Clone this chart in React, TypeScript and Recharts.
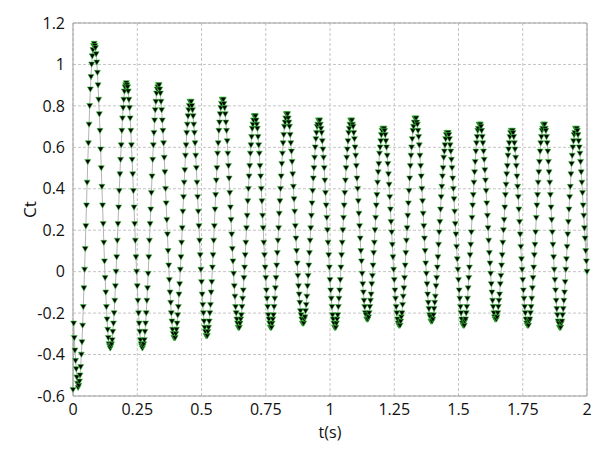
import React from "react";
import { LineChart, Line, XAxis, YAxis, CartesianGrid, ReferenceLine } from "recharts";

// sampling step of the record (s)
const DT = 0.0025;

const xTicks = [0, 0.25, 0.5, 0.75, 1, 1.25, 1.5, 1.75, 2];
const yTicks = [-0.6, -0.4, -0.2, 0, 0.2, 0.4, 0.6, 0.8, 1, 1.2];

// start-up transient, t = 0 .. 0.02
const ctOnset = [-0.57, -0.25, -0.32, -0.38, -0.43, -0.47, -0.51, -0.54, -0.56];

// one row per half cycle (25 samples each)
const ctHalfCycles: number[][] = [
  [-0.55, -0.53, -0.5, -0.46, -0.4, -0.34, -0.26, -0.17, -0.08, 0.01, 0.11, 0.22, 0.32, 0.43, 0.53, 0.62, 0.71, 0.8, 0.88, 0.94, 1.0, 1.04, 1.07, 1.09, 1.1],
  [1.09, 1.08, 1.05, 1.01, 0.96, 0.9, 0.83, 0.76, 0.68, 0.59, 0.5, 0.41, 0.32, 0.23, 0.14, 0.05, -0.03, -0.1, -0.17, -0.23, -0.28, -0.32, -0.35, -0.36, -0.37],
  [-0.36, -0.35, -0.33, -0.29, -0.25, -0.2, -0.14, -0.07, 0.0, 0.07, 0.15, 0.23, 0.31, 0.39, 0.47, 0.54, 0.61, 0.68, 0.74, 0.79, 0.83, 0.87, 0.89, 0.9, 0.91],
  [0.9, 0.89, 0.87, 0.83, 0.79, 0.74, 0.68, 0.61, 0.54, 0.47, 0.39, 0.31, 0.23, 0.15, 0.07, 0.0, -0.07, -0.14, -0.2, -0.25, -0.29, -0.33, -0.35, -0.36, -0.37],
  [-0.36, -0.35, -0.33, -0.29, -0.25, -0.2, -0.14, -0.08, -0.01, 0.07, 0.15, 0.23, 0.3, 0.38, 0.46, 0.54, 0.61, 0.67, 0.73, 0.78, 0.82, 0.86, 0.88, 0.89, 0.9],
  [0.9, 0.88, 0.86, 0.82, 0.78, 0.73, 0.68, 0.62, 0.55, 0.48, 0.4, 0.33, 0.25, 0.18, 0.1, 0.03, -0.04, -0.1, -0.15, -0.2, -0.24, -0.28, -0.3, -0.32, -0.32],
  [-0.32, -0.3, -0.28, -0.25, -0.21, -0.17, -0.11, -0.06, 0.01, 0.07, 0.14, 0.21, 0.29, 0.36, 0.43, 0.49, 0.56, 0.61, 0.67, 0.71, 0.75, 0.78, 0.8, 0.82, 0.82],
  [0.82, 0.8, 0.78, 0.75, 0.71, 0.67, 0.62, 0.56, 0.5, 0.43, 0.36, 0.29, 0.22, 0.15, 0.08, 0.01, -0.05, -0.11, -0.16, -0.2, -0.24, -0.27, -0.29, -0.31, -0.31],
  [-0.31, -0.29, -0.27, -0.24, -0.2, -0.16, -0.1, -0.05, 0.02, 0.08, 0.15, 0.22, 0.3, 0.37, 0.44, 0.5, 0.57, 0.62, 0.68, 0.72, 0.76, 0.79, 0.81, 0.83, 0.83],
  [0.83, 0.81, 0.79, 0.76, 0.72, 0.68, 0.63, 0.57, 0.51, 0.45, 0.38, 0.31, 0.25, 0.18, 0.11, 0.05, -0.01, -0.07, -0.12, -0.17, -0.2, -0.23, -0.25, -0.27, -0.27],
  [-0.27, -0.25, -0.23, -0.21, -0.17, -0.13, -0.09, -0.03, 0.02, 0.08, 0.14, 0.21, 0.27, 0.34, 0.4, 0.46, 0.51, 0.57, 0.61, 0.65, 0.69, 0.71, 0.73, 0.75, 0.75],
  [0.75, 0.73, 0.71, 0.69, 0.65, 0.61, 0.57, 0.51, 0.46, 0.4, 0.34, 0.27, 0.21, 0.14, 0.08, 0.02, -0.03, -0.09, -0.13, -0.17, -0.21, -0.23, -0.25, -0.27, -0.27],
  [-0.27, -0.25, -0.23, -0.21, -0.17, -0.13, -0.08, -0.03, 0.03, 0.09, 0.15, 0.21, 0.28, 0.34, 0.4, 0.46, 0.52, 0.57, 0.62, 0.66, 0.7, 0.72, 0.74, 0.76, 0.76],
  [0.76, 0.74, 0.72, 0.7, 0.66, 0.62, 0.58, 0.53, 0.47, 0.41, 0.35, 0.29, 0.22, 0.16, 0.1, 0.04, -0.02, -0.07, -0.11, -0.15, -0.19, -0.21, -0.23, -0.25, -0.25],
  [-0.25, -0.23, -0.22, -0.19, -0.16, -0.12, -0.07, -0.02, 0.03, 0.09, 0.15, 0.21, 0.27, 0.33, 0.39, 0.45, 0.5, 0.55, 0.6, 0.64, 0.67, 0.7, 0.71, 0.73, 0.73],
  [0.73, 0.71, 0.69, 0.67, 0.63, 0.59, 0.55, 0.5, 0.44, 0.38, 0.32, 0.26, 0.2, 0.14, 0.08, 0.02, -0.04, -0.09, -0.13, -0.17, -0.21, -0.23, -0.25, -0.27, -0.27],
  [-0.27, -0.25, -0.23, -0.21, -0.17, -0.13, -0.09, -0.04, 0.02, 0.08, 0.14, 0.2, 0.26, 0.32, 0.38, 0.44, 0.5, 0.55, 0.59, 0.63, 0.67, 0.69, 0.71, 0.73, 0.73],
  [0.73, 0.71, 0.7, 0.67, 0.64, 0.6, 0.56, 0.51, 0.45, 0.4, 0.34, 0.28, 0.22, 0.16, 0.1, 0.05, -0.01, -0.06, -0.1, -0.14, -0.17, -0.2, -0.21, -0.23, -0.23],
  [-0.23, -0.22, -0.2, -0.17, -0.14, -0.11, -0.06, -0.02, 0.03, 0.09, 0.14, 0.2, 0.26, 0.32, 0.37, 0.43, 0.48, 0.52, 0.57, 0.6, 0.63, 0.66, 0.68, 0.69, 0.69],
  [0.69, 0.68, 0.66, 0.63, 0.6, 0.56, 0.52, 0.47, 0.42, 0.36, 0.3, 0.24, 0.19, 0.13, 0.07, 0.01, -0.04, -0.09, -0.13, -0.17, -0.2, -0.23, -0.25, -0.26, -0.26],
  [-0.26, -0.24, -0.22, -0.2, -0.16, -0.12, -0.08, -0.03, 0.03, 0.09, 0.15, 0.21, 0.27, 0.33, 0.39, 0.45, 0.51, 0.56, 0.6, 0.64, 0.68, 0.7, 0.72, 0.74, 0.74],
  [0.74, 0.72, 0.71, 0.68, 0.65, 0.61, 0.56, 0.51, 0.46, 0.4, 0.34, 0.28, 0.22, 0.16, 0.1, 0.04, -0.01, -0.06, -0.11, -0.15, -0.18, -0.21, -0.22, -0.24, -0.24],
  [-0.24, -0.23, -0.21, -0.18, -0.15, -0.12, -0.07, -0.03, 0.02, 0.07, 0.13, 0.19, 0.24, 0.3, 0.36, 0.41, 0.46, 0.5, 0.55, 0.58, 0.61, 0.64, 0.66, 0.67, 0.67],
  [0.67, 0.66, 0.64, 0.61, 0.58, 0.54, 0.5, 0.45, 0.4, 0.35, 0.29, 0.23, 0.18, 0.12, 0.06, 0.01, -0.04, -0.09, -0.13, -0.17, -0.2, -0.23, -0.25, -0.26, -0.26],
  [-0.26, -0.24, -0.23, -0.2, -0.17, -0.13, -0.08, -0.03, 0.02, 0.08, 0.13, 0.19, 0.26, 0.32, 0.37, 0.43, 0.48, 0.53, 0.58, 0.62, 0.65, 0.68, 0.69, 0.71, 0.71],
  [0.71, 0.7, 0.68, 0.65, 0.62, 0.58, 0.54, 0.49, 0.44, 0.39, 0.33, 0.27, 0.21, 0.15, 0.09, 0.04, -0.01, -0.06, -0.1, -0.14, -0.17, -0.2, -0.22, -0.23, -0.23],
  [-0.23, -0.22, -0.2, -0.17, -0.14, -0.11, -0.06, -0.02, 0.03, 0.08, 0.14, 0.2, 0.25, 0.31, 0.37, 0.42, 0.47, 0.51, 0.56, 0.59, 0.62, 0.65, 0.67, 0.68, 0.68],
  [0.68, 0.67, 0.65, 0.62, 0.59, 0.55, 0.51, 0.46, 0.41, 0.36, 0.3, 0.24, 0.18, 0.12, 0.06, 0.01, -0.04, -0.09, -0.13, -0.17, -0.2, -0.23, -0.25, -0.26, -0.26],
  [-0.26, -0.24, -0.23, -0.2, -0.17, -0.13, -0.08, -0.03, 0.02, 0.08, 0.13, 0.19, 0.26, 0.32, 0.37, 0.43, 0.48, 0.53, 0.58, 0.62, 0.65, 0.68, 0.69, 0.71, 0.71],
  [0.71, 0.69, 0.68, 0.65, 0.62, 0.58, 0.53, 0.48, 0.43, 0.37, 0.31, 0.25, 0.19, 0.13, 0.07, 0.01, -0.04, -0.09, -0.14, -0.18, -0.21, -0.24, -0.25, -0.27, -0.27],
  [-0.27, -0.25, -0.24, -0.21, -0.18, -0.14, -0.1, -0.05, 0.01, 0.06, 0.12, 0.18, 0.24, 0.3, 0.36, 0.41, 0.47, 0.52, 0.56, 0.6, 0.63, 0.66, 0.67, 0.69, 0.69],
];

// last partial descent up to t = 2 s
const ctTail = [0.69, 0.68, 0.66, 0.63, 0.6, 0.57, 0.53, 0.48, 0.43, 0.38, 0.32, 0.27, 0.21, 0.16, 0.1, 0.05, 0.0];

const ctValues = [...ctOnset, ...ctHalfCycles.flat(), ...ctTail];
const data = ctValues.map((ct, i) => ({ t: i * DT, ct }));

const font = "'Open Sans', 'DejaVu Sans', sans-serif";

function TriangleDown(props: any) {
  const { cx, cy, index } = props;
  if (cx == null || cy == null) return null;
  return (
    <path
      key={`tri-${index}`}
      d={`M${cx - 3},${cy - 2.4}L${cx + 3},${cy - 2.4}L${cx},${cy + 2.8}Z`}
      fill="#000"
      stroke="#3cc83c"
      strokeWidth={0.6}
    />
  );
}

export default function App() {
  return (
    <div style={{ position: "absolute", left: 0, top: 0, width: 600, height: 453, background: "#fff" }}>
      <LineChart width={600} height={453} data={data} margin={{ top: 23, right: 13, bottom: 0, left: 0 }}>
        <CartesianGrid stroke="#c4c4c4" strokeDasharray="3 2" />
        <XAxis
          dataKey="t"
          type="number"
          domain={[0, 2]}
          ticks={xTicks}
          height={57}
          stroke="#a0a0a0"
          tickLine={false}
          tick={{ fontSize: 16, fill: "#111", fontFamily: font }}
          tickFormatter={(v) => String(v)}
          label={{ value: "t(s)", position: "center", dy: 8, fontSize: 16, fill: "#111", fontFamily: font }}
        />
        <YAxis
          type="number"
          domain={[-0.6, 1.2]}
          ticks={yTicks}
          width={73}
          stroke="#a0a0a0"
          tickLine={false}
          tick={{ fontSize: 16, fill: "#111", fontFamily: font }}
          tickFormatter={(v) => String(v)}
          label={{ value: "Ct", angle: -90, position: "center", dx: -7, fontSize: 17, fill: "#111", fontFamily: font }}
        />
        <ReferenceLine y={1.2} stroke="#a0a0a0" />
        <ReferenceLine x={2} stroke="#a0a0a0" />
        <Line
          type="linear"
          dataKey="ct"
          stroke="#b4b4b4"
          strokeWidth={1}
          dot={TriangleDown}
          activeDot={false}
          isAnimationActive={false}
        />
      </LineChart>
    </div>
  );
}
